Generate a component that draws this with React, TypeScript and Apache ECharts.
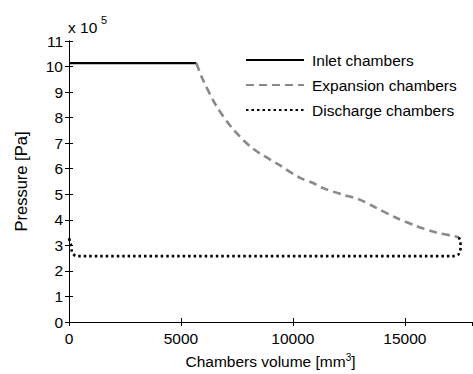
import React, { useEffect, useRef } from "react";
import * as echarts from "echarts";

const FONT = "Arial, 'Liberation Sans', Helvetica, sans-serif";

const xTicks = [0, 5000, 10000, 15000];
const yTicks = [0, 1, 2, 3, 4, 5, 6, 7, 8, 9, 10, 11];

const inletX = [0, 2700, 5690];
const inletP = [10.13, 10.13, 10.13];

const expansionX = [5690, 5980, 6580, 7320, 8210, 9390, 10300, 10880, 11320, 12210, 12960, 13700, 14590, 15480, 16370, 17260, 17410];
const expansionP = [10.13, 9.49, 8.46, 7.56, 6.79, 6.15, 5.65, 5.45, 5.25, 4.99, 4.8, 4.48, 4.09, 3.77, 3.51, 3.35, 3.32];

const dischargeX = [17410, 17480, 17490, 17460, 17370, 17200, 340, 130, 110, 40, 0];
const dischargeP = [3.32, 3.15, 2.95, 2.75, 2.62, 2.58, 2.58, 2.75, 2.95, 3.15, 3.3];

const zip = (xs: number[], ys: number[]) => xs.map((x, i) => [x, ys[i]]);

export default function App() {
  const ref = useRef<HTMLDivElement>(null);
  useEffect(() => {
    if (!ref.current) return;
    const chart = echarts.init(ref.current, null, { renderer: "svg" });
    const axisLine = { show: true, lineStyle: { color: "#000", width: 1 } };
    const tick = { show: true, inside: true, length: 4, lineStyle: { color: "#000" } };
    chart.setOption({
      animation: false,
      backgroundColor: "#fff",
      textStyle: { fontFamily: FONT },
      grid: { left: 69, right: 1, top: 41, bottom: 48, show: false },
      legend: {
        orient: "vertical",
        left: 245,
        top: 52,
        padding: 0,
        itemWidth: 58,
        itemHeight: 16,
        itemGap: 9,
        itemStyle: { opacity: 0 },
        textStyle: { fontSize: 15.5, color: "#000", fontFamily: FONT, padding: [0, 0, 0, 3] },
        data: ["Inlet chambers", "Expansion chambers", "Discharge chambers"],
      },
      graphic: [
        { type: "text", left: 68, top: 19, style: { text: "x 10", fontSize: 15.5, fill: "#000", fontFamily: FONT } },
        { type: "text", left: 101, top: 14, style: { text: "5", fontSize: 11, fill: "#000", fontFamily: FONT } },
      ],
      xAxis: [
        {
          type: "value",
          min: 0,
          max: 18000,
          interval: 5000,
          position: "bottom",
          axisLine,
          axisTick: tick,
          splitLine: { show: false },
          axisLabel: {
            color: "#000",
            fontSize: 15.5,
            fontFamily: FONT,
            margin: 8,
            showMaxLabel: false,
            formatter: (v: number) => (xTicks.includes(v) ? String(v) : ""),
          },
          name: "Chambers volume [mm{sup|3}]",
          nameLocation: "middle",
          nameGap: 30,
          nameTextStyle: {
            color: "#000",
            fontSize: 15.5,
            fontFamily: FONT,
            rich: { sup: { fontSize: 10, verticalAlign: "top", padding: [0, 0, 8, 0], color: "#000", fontFamily: FONT } },
          },
        },
        {
          type: "value",
          min: 0,
          max: 18000,
          interval: 5000,
          position: "top",
          axisLine,
          axisTick: tick,
          axisLabel: { show: false },
          splitLine: { show: false },
        },
      ],
      yAxis: [
        {
          type: "value",
          min: 0,
          max: 11,
          interval: 1,
          position: "left",
          axisLine,
          axisTick: tick,
          splitLine: { show: false },
          axisLabel: {
            color: "#000",
            fontSize: 15.5,
            fontFamily: FONT,
            margin: 6,
            formatter: (v: number) => (yTicks.includes(v) ? String(v) : ""),
          },
          name: "Pressure [Pa]",
          nameLocation: "middle",
          nameGap: 40,
          nameTextStyle: { color: "#000", fontSize: 16.5, fontFamily: FONT },
        },
        {
          type: "value",
          min: 0,
          max: 11,
          interval: 1,
          position: "right",
          axisLine,
          axisTick: tick,
          axisLabel: { show: false },
          splitLine: { show: false },
        },
      ],
      series: [
        {
          name: "Inlet chambers",
          type: "line",
          data: zip(inletX, inletP),
          symbol: "none",
          lineStyle: { color: "#000", width: 2.2, type: "solid" },
          itemStyle: { color: "#000" },
        },
        {
          name: "Expansion chambers",
          type: "line",
          data: zip(expansionX, expansionP),
          symbol: "none",
          smooth: 0.3,
          lineStyle: { color: "#8a8a8a", width: 2.6, type: [8, 5] },
          itemStyle: { color: "#8a8a8a" },
        },
        {
          name: "Discharge chambers",
          type: "line",
          data: zip(dischargeX, dischargeP),
          symbol: "none",
          smooth: 0.3,
          lineStyle: { color: "#000", width: 2.6, type: [2.5, 3] },
          itemStyle: { color: "#000" },
        },
      ],
    });
    return () => chart.dispose();
  }, []);
  return <div ref={ref} style={{ width: 473, height: 374, position: "absolute", left: 0, top: 0 }} />;
}
